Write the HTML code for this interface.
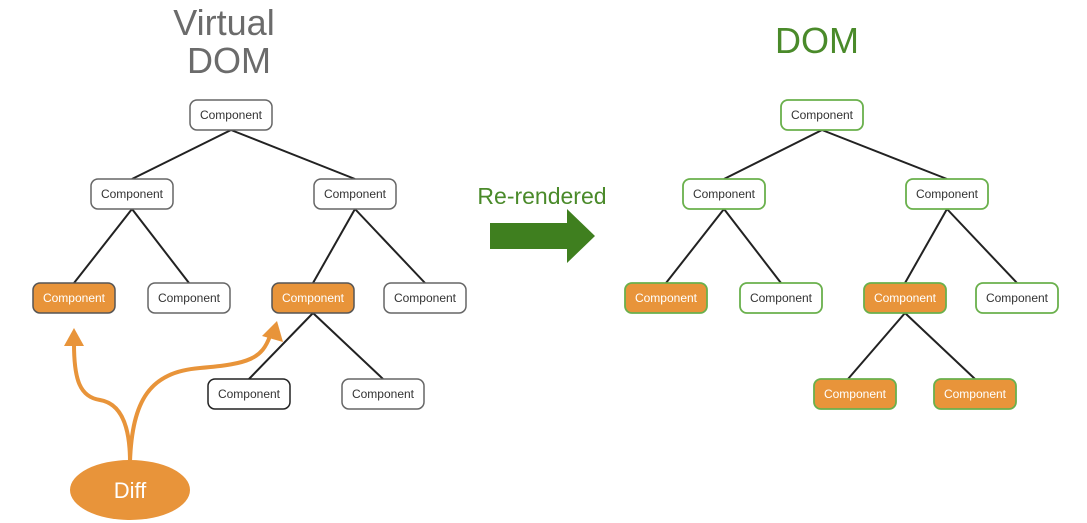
<!DOCTYPE html>
<html><head><meta charset="utf-8"><style>
html,body{margin:0;padding:0;background:#fff;}
svg{display:block;}
text{font-family:"Liberation Sans",Arial,sans-serif;}
</style></head><body>
<svg width="1087" height="523" viewBox="0 0 1087 523" xmlns="http://www.w3.org/2000/svg">
<text x="224" y="35" font-size="36" fill="#6b6b6b" text-anchor="middle">Virtual</text>
<text x="229" y="73" font-size="36" fill="#6b6b6b" text-anchor="middle">DOM</text>
<text x="817" y="53" font-size="36" fill="#4a8a2a" text-anchor="middle">DOM</text>
<text x="542" y="204" font-size="23" fill="#4a8a2a" text-anchor="middle">Re-rendered</text>
<polygon points="490,223 567,223 567,209 595,236 567,263 567,249 490,249" fill="#3f7f1f"/>
<g stroke="#222" stroke-width="2" fill="none">
<line x1="231" y1="130" x2="132" y2="179"/><line x1="231" y1="130" x2="355" y2="179"/>
<line x1="132" y1="209" x2="74" y2="283"/><line x1="132" y1="209" x2="189" y2="283"/>
<line x1="355" y1="209" x2="313" y2="283"/><line x1="355" y1="209" x2="425" y2="283"/>
<line x1="313" y1="313" x2="249" y2="379"/><line x1="313" y1="313" x2="383" y2="379"/>
<line x1="822" y1="130" x2="724" y2="179"/><line x1="822" y1="130" x2="947" y2="179"/>
<line x1="724" y1="209" x2="666" y2="283"/><line x1="724" y1="209" x2="781" y2="283"/>
<line x1="947" y1="209" x2="905" y2="283"/><line x1="947" y1="209" x2="1017" y2="283"/>
<line x1="905" y1="313" x2="848" y2="379"/><line x1="905" y1="313" x2="975" y2="379"/>
</g>
<g font-size="12" text-anchor="middle">
<!-- left tree -->
<g stroke-width="1.5">
<rect x="190" y="100" width="82" height="30" rx="7" fill="#fff" stroke="#666"/>
<rect x="91" y="179" width="82" height="30" rx="7" fill="#fff" stroke="#666"/>
<rect x="314" y="179" width="82" height="30" rx="7" fill="#fff" stroke="#666"/>
<rect x="33" y="283" width="82" height="30" rx="7" fill="#e8943a" stroke="#555"/>
<rect x="148" y="283" width="82" height="30" rx="7" fill="#fff" stroke="#666"/>
<rect x="272" y="283" width="82" height="30" rx="7" fill="#e8943a" stroke="#555"/>
<rect x="384" y="283" width="82" height="30" rx="7" fill="#fff" stroke="#666"/>
<rect x="208" y="379" width="82" height="30" rx="7" fill="#fff" stroke="#222"/>
<rect x="342" y="379" width="82" height="30" rx="7" fill="#fff" stroke="#666"/>
</g>
<text x="231" y="119" fill="#333">Component</text>
<text x="132" y="198" fill="#333">Component</text>
<text x="355" y="198" fill="#333">Component</text>
<text x="74" y="302" fill="#fff">Component</text>
<text x="189" y="302" fill="#333">Component</text>
<text x="313" y="302" fill="#fff">Component</text>
<text x="425" y="302" fill="#333">Component</text>
<text x="249" y="398" fill="#333">Component</text>
<text x="383" y="398" fill="#333">Component</text>
<!-- right tree -->
<g stroke-width="1.8" stroke="#6ab04c">
<rect x="781" y="100" width="82" height="30" rx="7" fill="#fff"/>
<rect x="683" y="179" width="82" height="30" rx="7" fill="#fff"/>
<rect x="906" y="179" width="82" height="30" rx="7" fill="#fff"/>
<rect x="625" y="283" width="82" height="30" rx="7" fill="#e8943a"/>
<rect x="740" y="283" width="82" height="30" rx="7" fill="#fff"/>
<rect x="864" y="283" width="82" height="30" rx="7" fill="#e8943a"/>
<rect x="976" y="283" width="82" height="30" rx="7" fill="#fff"/>
<rect x="814" y="379" width="82" height="30" rx="7" fill="#e8943a"/>
<rect x="934" y="379" width="82" height="30" rx="7" fill="#e8943a"/>
</g>
<text x="822" y="119" fill="#333">Component</text>
<text x="724" y="198" fill="#333">Component</text>
<text x="947" y="198" fill="#333">Component</text>
<text x="666" y="302" fill="#fff">Component</text>
<text x="781" y="302" fill="#333">Component</text>
<text x="905" y="302" fill="#fff">Component</text>
<text x="1017" y="302" fill="#333">Component</text>
<text x="855" y="398" fill="#fff">Component</text>
<text x="975" y="398" fill="#fff">Component</text>
</g>
<!-- diff arrows -->
<g stroke="#e8943a" stroke-width="4" fill="none">
<path d="M130,462 C130,420 118,403 100,400 C80,397 74,380 74,344"/>
<path d="M130,462 C132,400 150,372 200,368 C250,364 262,358 270,336"/>
</g>
<polygon points="74,328 64,346 84,346" fill="#e8943a"/>
<polygon points="277,321 262,336 283,342" fill="#e8943a"/>
<ellipse cx="130" cy="490" rx="60" ry="30" fill="#e8943a"/>
<text x="130" y="498" font-size="22" fill="#fff" text-anchor="middle">Diff</text>
</svg>
</body></html>
